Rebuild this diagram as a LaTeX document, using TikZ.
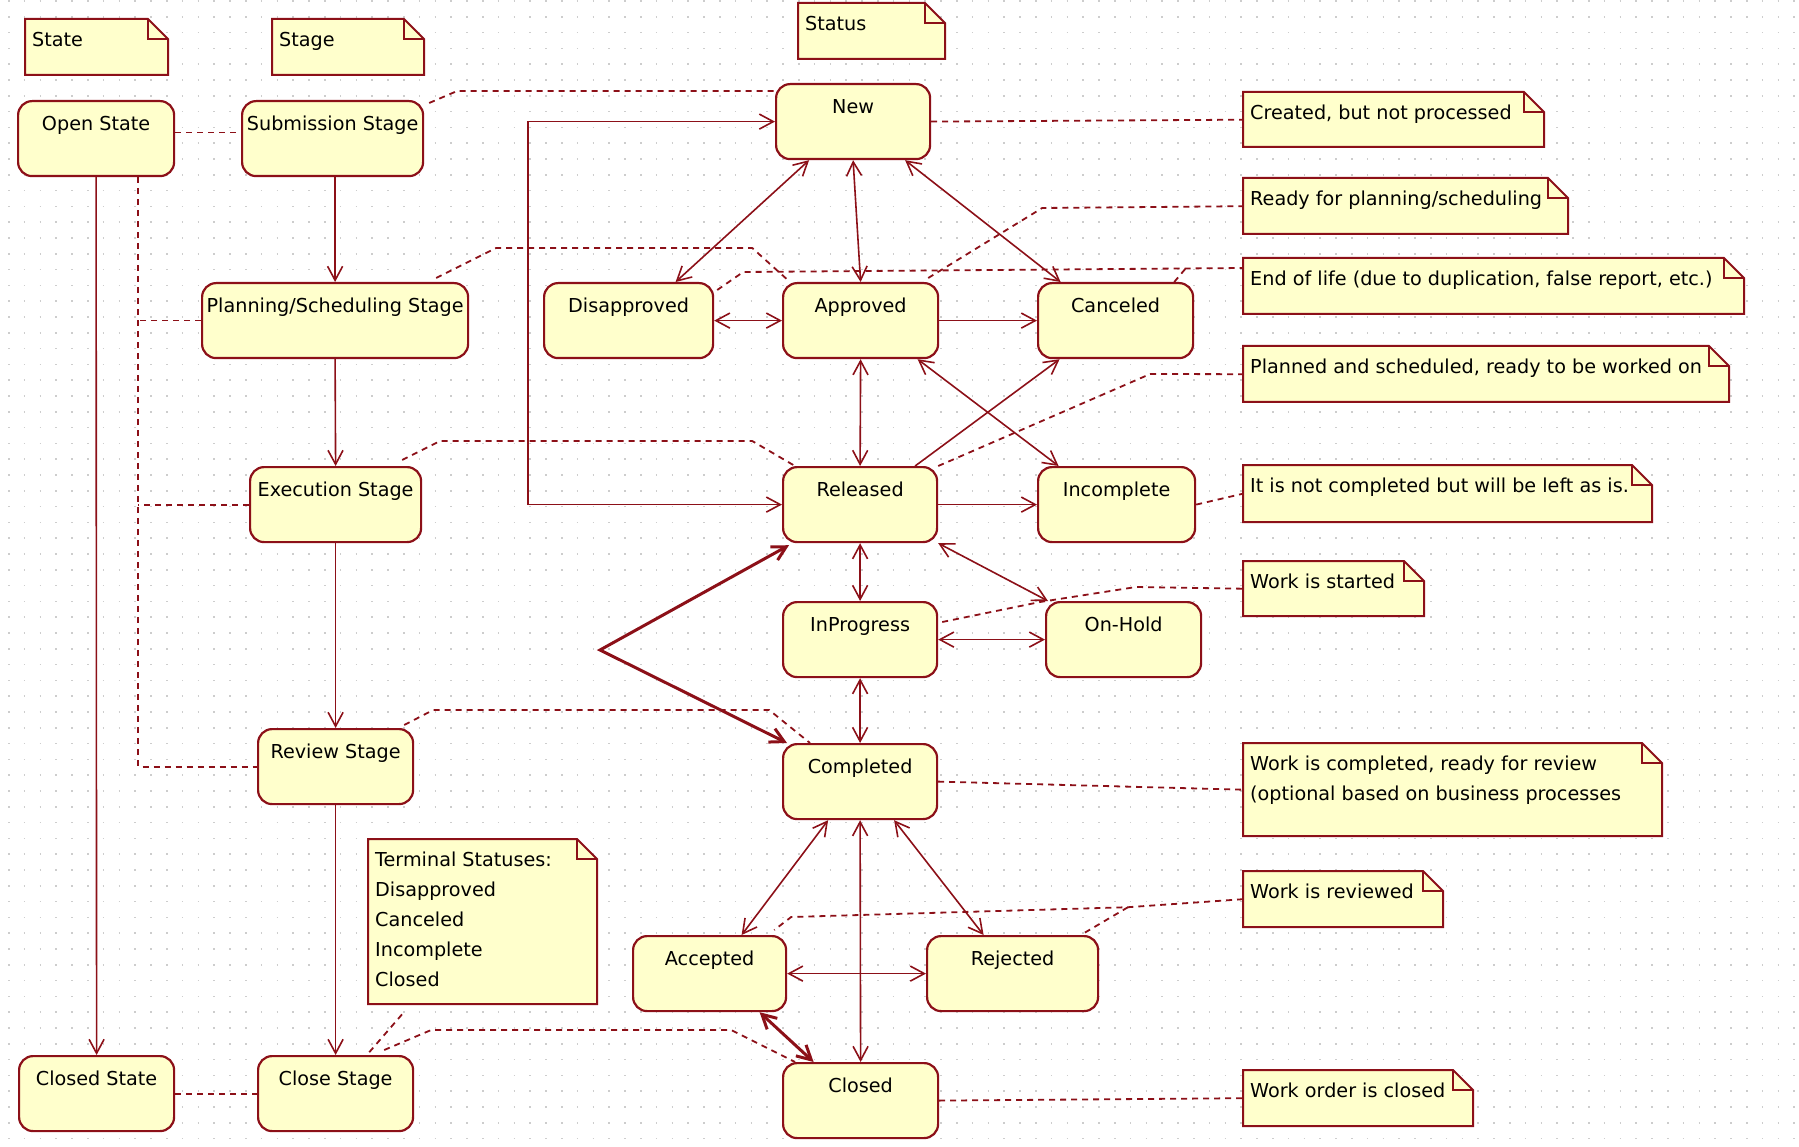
\documentclass[tikz,border=0pt]{standalone}
\usepackage{fontspec}
\setmainfont{DejaVu Sans}
\usetikzlibrary{arrows.meta}
\usetikzlibrary{calc}
\definecolor{roseline}{RGB}{140,16,24}
\definecolor{rosefill}{RGB}{255,255,204}
\definecolor{rosegrid}{RGB}{205,205,205}
% name, x, y, width, height, text
\newcommand*{\notebox}[6]{%
    \filldraw [noteline] (#2,#3) -- ++({#4-20},0) -- ++(20,20) -- ++(0,{#5-20}) -- ++({-#4},0) -- cycle;
    \draw [noteline, fill=none] ({#2+#4-20},#3) -- ++(0,20) -- ++(20,0);
    \node [notebox, minimum width=#4pt, minimum height=#5pt, label={[notetext]north west:{#6}}] (#1) at (#2,#3) {};
}

\begin{document}
\begin{tikzpicture}[x=1pt, y=-1pt, font=\fontsize{19.2}{30}\selectfont,
    state/.style={draw=roseline, fill=rosefill, line width=2.2pt, rounded corners=14pt, anchor=north west,
        inner sep=0pt, minimum width=#1pt, text height=29pt, text depth=46pt},
    noteline/.style={draw=roseline, fill=rosefill, line width=2pt},
    notebox/.style={inner sep=0pt, anchor=north west},
    notetext/.style={anchor=north west, inner sep=0pt, xshift=7pt, yshift=-13pt, align=left},
    trans/.style={draw=roseline, line width=1.6pt},
    link/.style={draw=roseline, line width=1.8pt, dash pattern=on 6pt off 5pt},
    gridrow/.style={draw=rosegrid, line width=1.6pt, dash pattern=on 1.6pt off 14.2pt},
    >={Straight Barb[length=14pt,width=15pt]}]
    \useasboundingbox (0,0) rectangle (1799,1147);
    \foreach \gy in {0,...,72}
        \draw [gridrow] (8,{\gy*15.8+1}) -- (1799,{\gy*15.8+1});

    % stereotypes
    \notebox{statenote}{25}{19}{143}{56}{State}
    \notebox{stagenote}{272}{19}{152}{56}{Stage}
    \notebox{statusnote}{798}{3}{147}{56}{Status}

    % states and stages
    \node [state=156] (open)        at (17,100)   {Open State};
    \node [state=181] (sub)         at (241,100)  {Submission Stage};
    \node [state=266] (plan)        at (201,282)  {Planning/Scheduling Stage};
    \node [state=171] (exec)        at (249,466)  {Execution Stage};
    \node [state=155] (review)      at (257,728)  {Review Stage};
    \node [state=155] (closedstate) at (18,1055)  {Closed State};
    \node [state=155] (close)       at (257,1055) {Close Stage};

    % statuses
    \node [state=154] (new)        at (775,83)   {New};
    \node [state=169] (disapp)     at (543,282)  {Disapproved};
    \node [state=155] (approved)   at (782,282)  {Approved};
    \node [state=155] (canceled)   at (1037,282) {Canceled};
    \node [state=154] (released)   at (782,466)  {Released};
    \node [state=157] (incomplete) at (1037,466) {Incomplete};
    \node [state=154] (inprogress) at (782,601)  {InProgress};
    \node [state=155] (onhold)     at (1045,601) {On-Hold};
    \node [state=154] (completed)  at (782,743)  {Completed};
    \node [state=153] (accepted)   at (632,935)  {Accepted};
    \node [state=171] (rejected)   at (926,935)  {Rejected};
    \node [state=155] (closed)     at (782,1062) {Closed};

    % comments
    \notebox{created}{1243}{92}{301}{55}{Created, but not processed}
    \notebox{ready}{1243}{178}{325}{56}{Ready for planning/scheduling}
    \notebox{endlife}{1243}{258}{501}{56}{End of life (due to duplication, false report, etc.)}
    \notebox{planned}{1243}{346}{486}{56}{Planned and scheduled, ready to be worked on}
    \notebox{notdone}{1243}{465}{409}{57}{It is not completed but will be left as is.}
    \notebox{started}{1243}{561}{181}{55}{Work is started}
    \notebox{workdone}{1243}{743}{419}{93}{Work is completed, ready for review\\(optional based on business processes}
    \notebox{reviewed}{1243}{871}{200}{56}{Work is reviewed}
    \notebox{workclosed}{1243}{1070}{230}{56}{Work order is closed}
    \notebox{terminal}{368}{839}{229}{165}{Terminal Statuses:\\Disapproved\\Canceled\\Incomplete\\Closed}

    % stage flow
    \draw [trans, ->] (open.south) -- (closedstate.north);
    \draw [trans, ->] (plan.north |- sub.south) -- (plan.north);
    \draw [trans, ->] (plan.south) -- (exec.north);
    \draw [trans, ->] (exec.south) -- (review.north);
    \draw [trans, ->] (review.south) -- (close.north);

    % status flow
    \draw [trans, <->] (released.west) -- ++(-254,0) |- (new.west);
    \draw [trans, <->] ($(new.south)+(-44,0)$) -- ($(disapp.north)+(47,0)$);
    \draw [trans, <->] (new.south) -- (approved.north);
    \draw [trans, <->] ($(new.south)+(52,0)$) -- ($(canceled.north)+(-55,0)$);
    \draw [trans, <->] (disapp.east) -- (approved.west);
    \draw [trans, ->] (approved.east) -- (canceled.west);
    \draw [trans, <->] (approved.south) -- (released.north);
    \draw [trans, <->] ($(approved.south)+(57,0)$) -- ($(incomplete.north)+(-58,0)$);
    \draw [trans, ->] ($(released.north)+(55,0)$) -- ($(canceled.south)+(-56,0)$);
    \draw [trans, ->] (released.east) -- (incomplete.west);
    \draw [trans, <->] (released.south) -- (inprogress.north);
    \draw [trans, <->] (released.south east) -- ($(onhold.north west)+(3,0)$);
    \draw [trans, <->] (inprogress.east) -- (onhold.west);
    \draw [trans, <->] (inprogress.south) -- (completed.north);
    \coordinate (rework) at (600,650);
    \draw [trans, line width=3pt, <->] ($(completed.north west)+(5,0)$) -- (rework) -- ($(released.south west)+(7,2)$);
    \draw [trans, <->] ($(completed.south)+(-32,0)$) -- ($(accepted.north)+(32,0)$);
    \draw [trans, <->] (completed.south) -- (closed.north);
    \draw [trans, <->] ($(completed.south)+(34,0)$) -- ($(rejected.north)+(-29,0)$);
    \draw [trans, <->] (accepted.east) -- (rejected.west);
    \draw [trans, line width=3pt, <->] ($(accepted.south)+(50,0)$) -- ($(closed.north)+(-47,0)$);

    % state - stage - status links
    \draw [link] ($(open.east)+(0,-6)$) -- ($(sub.west)+(0,-6)$);
    \coordinate (trunk) at ($(open.south)+(42,0)$);
    \draw [link] (trunk) |- (review.west);
    \draw [link] (plan.west) -- (plan.west -| trunk);
    \draw [link] (exec.west) -- (exec.west -| trunk);
    \draw [link] (closedstate.east) -- (close.west);
    \draw [link] ($(sub.north east)+(5,3)$) -- ++(28,-12) -- ($(new.north west)+(0,8)$);
    \draw [link] ($(plan.north east)+(-33,-4)$) -- ++(60,-30) -- ++(256,0) -- ($(approved.north west)+(8,0)$);
    \draw [link] ($(exec.north east)+(-20,-6)$) -- ++(38,-19) -- ++(312,0) -- ($(released.north west)+(13,0)$);
    \draw [link] ($(review.north east)+(-10,-3)$) -- ++(29,-15) -- ++(336,0) -- ($(completed.north west)+(28,0)$);
    \draw [link] ($(close.north east)+(-30,-5)$) -- ++(47,-20) -- ++(300,0) -- ($(closed.north west)+(13,0)$);
    \draw [link] ($(terminal.south west)+(34,10)$) -- ($(close.north)+(33,-2)$);

    % comment links
    \draw [link] (new.east) -- (created.west);
    \draw [link] ($(approved.north east)+(-11,-4)$) -- ++(114,-70) -- (ready.west);
    \draw [link] ($(disapp.north east)+(3,8)$) -- ++(26,-18) -- ($(endlife.north west)+(0,10)$);
    \draw [link] ($(canceled.north east)+(-20,0)$) -- ++(11,-13);
    \draw [link] (released.north east) -- ++(212,-92) -- (planned.west);
    \draw [link] (incomplete.east) -- (notdone.west);
    \draw [link] ($(inprogress.north east)+(4,21)$) -- ($(onhold.north west)+(-5,1)$) -- ++(96,-15) -- (started.west);
    \draw [link] (completed.east) -- (workdone.west);
    \draw [link] (reviewed.west) -- ++(-115,8) coordinate (rvfork) -- ($(accepted.north east)+(4,-18)$) -- ($(accepted.north east)+(-13,-5)$);
    \draw [link] (rvfork) -- ($(rejected.north east)+(-15,-2)$);
    \draw [link] (closed.east) -- (workclosed.west);
\end{tikzpicture}
\end{document}
